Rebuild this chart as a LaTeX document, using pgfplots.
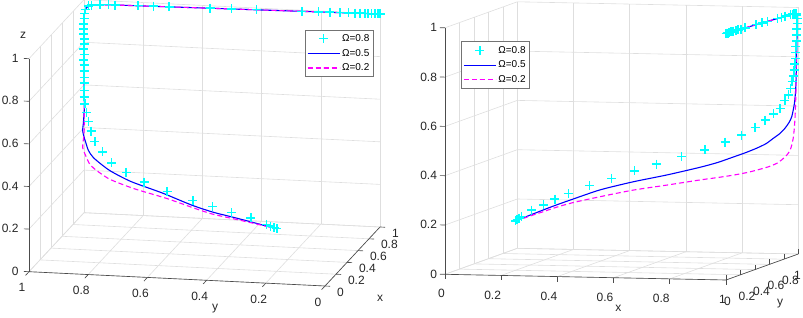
\documentclass[border=0pt]{standalone}
\usepackage{fontspec}
\setmainfont{Liberation Sans}
\usepackage{pgfplots}
\usepackage{pgfplotstable}
\pgfplotsset{compat=1.18}

\pgfplotstableread{
x y z
0.200 0.200 0.200
0.203 0.210 0.204
0.207 0.222 0.209
0.212 0.237 0.215
0.233 0.294 0.235
0.257 0.363 0.249
0.280 0.432 0.266
0.309 0.504 0.281
0.359 0.600 0.305
0.416 0.688 0.326
0.478 0.761 0.350
0.541 0.821 0.373
0.619 0.867 0.400
0.692 0.906 0.425
0.757 0.931 0.455
0.811 0.950 0.483
0.855 0.965 0.514
0.888 0.976 0.543
0.915 0.984 0.568
0.938 0.988 0.591
0.955 0.990 0.622
0.966 0.993 0.645
0.974 0.995 0.672
0.979 0.996 0.699
0.983 0.997 0.722
0.986 0.997 0.746
0.988 0.998 0.771
0.990 0.998 0.794
0.991 0.998 0.817
0.992 0.999 0.841
0.993 0.999 0.865
0.994 0.999 0.888
0.995 0.999 0.912
0.996 0.998 0.936
0.997 0.995 0.956
0.998 0.985 0.972
0.999 0.974 0.977
0.999 0.946 0.980
1.000 0.918 0.982
1.000 0.895 0.982
1.000 0.817 0.984
1.000 0.766 0.985
1.000 0.712 0.986
1.000 0.574 0.989
1.000 0.501 0.990
1.000 0.417 0.992
1.000 0.264 0.995
1.000 0.208 0.996
1.000 0.169 0.997
1.000 0.135 0.997
1.000 0.107 0.998
1.000 0.084 0.998
1.000 0.068 0.999
1.000 0.051 0.999
1.000 0.040 0.999
1.000 0.028 0.999
1.000 0.017 1.000
1.000 0.006 1.000
1.000 0.000 1.000
}\cyantab

\pgfplotstableread{
x y z
0.200 0.200 0.200
0.215 0.245 0.208
0.233 0.294 0.217
0.257 0.363 0.229
0.280 0.430 0.240
0.320 0.510 0.257
0.392 0.622 0.286
0.479 0.745 0.308
0.574 0.835 0.328
0.674 0.907 0.354
0.730 0.935 0.372
0.780 0.953 0.393
0.820 0.967 0.410
0.857 0.978 0.428
0.890 0.982 0.447
0.915 0.985 0.469
0.937 0.988 0.488
0.955 0.990 0.510
0.968 0.993 0.532
0.978 0.995 0.557
0.987 0.997 0.611
0.991 0.998 0.665
0.993 0.999 0.730
0.994 0.999 0.787
0.995 0.999 0.850
0.996 0.999 0.909
0.997 0.996 0.950
0.998 0.985 0.972
0.999 0.960 0.980
1.000 0.900 0.982
1.000 0.800 0.984
1.000 0.700 0.986
1.000 0.600 0.988
1.000 0.500 0.990
1.000 0.400 0.992
1.000 0.300 0.994
1.000 0.200 0.996
1.000 0.100 0.998
1.000 0.000 1.000
}\bluetab

\pgfplotstableread{
x y z
0.200 0.200 0.200
0.233 0.294 0.213
0.257 0.363 0.222
0.280 0.432 0.231
0.322 0.505 0.244
0.396 0.607 0.260
0.480 0.735 0.275
0.574 0.835 0.287
0.675 0.905 0.303
0.730 0.932 0.311
0.781 0.950 0.320
0.830 0.967 0.331
0.869 0.980 0.343
0.900 0.985 0.354
0.926 0.988 0.367
0.945 0.990 0.383
0.961 0.992 0.401
0.972 0.994 0.420
0.978 0.995 0.442
0.983 0.996 0.470
0.986 0.997 0.503
0.989 0.998 0.557
0.992 0.999 0.666
0.993 0.999 0.787
0.995 0.999 0.909
0.997 0.996 0.950
0.998 0.985 0.972
0.999 0.960 0.980
1.000 0.900 0.982
1.000 0.800 0.984
1.000 0.700 0.986
1.000 0.600 0.988
1.000 0.500 0.990
1.000 0.400 0.992
1.000 0.300 0.994
1.000 0.200 0.996
1.000 0.100 0.998
1.000 0.000 1.000
}\magtab

\definecolor{axc}{gray}{0.3}
\definecolor{gridc}{gray}{0.87}
\definecolor{mcyan}{rgb}{0,1,1}
\definecolor{mblue}{rgb}{0,0,1}
\definecolor{mmag}{rgb}{1,0,1}

\pgfplotsset{
  mybox/.style={
    xmin=0,xmax=1,ymin=0,ymax=1,zmin=0,zmax=1,
    xtick={0,0.2,0.4,0.6,0.8,1},
    ytick={0,0.2,0.4,0.6,0.8,1},
    ztick={0,0.2,0.4,0.6,0.8,1},
    xticklabels={}, yticklabels={}, zticklabels={},
    major tick length=0pt,
    grid=major,
    grid style={draw=gridc, line width=0.6pt},
    axis line style={draw=none},
    clip=false,
    anchor=origin,
    legend cell align=left,
    legend style={draw=black!55, fill=white, line width=0.6pt,
      font=\fontsize{10}{11}\selectfont, anchor=north west,
      row sep=2.2pt, inner ysep=2.5pt, inner xsep=2pt},
    legend image code/.code={\draw[mark repeat=2,mark phase=2,##1] plot coordinates {(0pt,0pt) (16pt,0pt) (32pt,0pt)};},
  },
  cyanplot/.style={only marks, mark=+, mark size=4.5pt, draw=mcyan, line width=1.5pt,
    legend image code/.code={\draw[mark repeat=2,mark phase=2,##1] plot coordinates {(0pt,0pt) (16pt,0pt) (32pt,0pt)};}},
  blueplot/.style={draw=mblue, line width=1.1pt, no marks, smooth, tension=0.4},
  magplot/.style={draw=mmag, line width=1.1pt, no marks, smooth, tension=0.4, dash pattern=on 5pt off 3pt},
}

\tikzset{
  axl/.style={draw=axc, line width=0.65pt},
  tl/.style={font=\fontsize{12}{13}\selectfont, text=black!85, inner sep=0pt},
}

\begin{document}
\begin{tikzpicture}
\useasboundingbox (0pt,0pt) rectangle (803pt,318pt);

% ---------------- left plot ----------------
\begin{axis}[mybox,
  at={(325pt,32pt)},
  x={(55pt,59pt)}, y={(-296pt,14.3pt)}, z={(0pt,213pt)},
  legend style={at={(axis cs:0,0.0686,1.199)}},
]
\addplot3[cyanplot] table[x=x,y=y,z=z] {\cyantab};
\addplot3[blueplot] table[x=x,y=y,z=z] {\bluetab};
\addplot3[magplot] table[x=x,y=y,z=z] {\magtab};
\legend{Ω=0.8, Ω=0.5, Ω=0.2}
\draw[axl] (axis cs:0,1,0) -- (axis cs:0,1,1);
\draw[axl] (axis cs:0,0,0) -- (axis cs:0,1,0);
\draw[axl] (axis cs:0,0,0) -- (axis cs:1,0,0);
\pgfplotsinvokeforeach{0,0.2,0.4,0.6,0.8,1}{
  \draw[axl] (axis cs:0,1,#1) -- (axis cs:0,1.017,#1);
  \node[tl, anchor=east] at (axis cs:0,1.035,#1) {#1};
  \draw[axl] (axis cs:0,#1,0) -- (axis cs:-0.062,#1,0);
  \node[tl] at (axis cs:-0.127,#1,-0.04) {#1};
  \draw[axl] (axis cs:#1,0,0) -- (axis cs:#1,-0.017,0);
  \node[tl, anchor=west] at (axis cs:#1,-0.04,-0.025) {#1};
}
\end{axis}

% ---------------- right plot ----------------
\begin{axis}[mybox,
  at={(445pt,43.7pt)},
  x={(281pt,-5.7pt)}, y={(72.3pt,26pt)}, z={(0pt,246.5pt)},
  legend style={at={(axis cs:0.057,0,0.946)}},
]
\addplot3[cyanplot] table[x=x,y=y,z=z] {\cyantab};
\addplot3[blueplot] table[x=x,y=y,z=z] {\bluetab};
\addplot3[magplot] table[x=x,y=y,z=z] {\magtab};
\legend{Ω=0.8, Ω=0.5, Ω=0.2}
\draw[axl] (axis cs:0,0,0) -- (axis cs:0,0,1);
\draw[axl] (axis cs:0,0,0) -- (axis cs:1,0,0);
\draw[axl] (axis cs:1,0,0) -- (axis cs:1,1,0);
\pgfplotsinvokeforeach{0,0.2,0.4,0.6,0.8,1}{
  \draw[axl] (axis cs:0,0,#1) -- (axis cs:-0.018,0,#1);
  \node[tl, anchor=east] at (axis cs:-0.028,0,#1) {#1};
  \draw[axl] (axis cs:#1,0,0) -- (axis cs:#1,0,-0.02);
  \node[tl, anchor=north east] at (axis cs:#1,0,-0.061) {#1};
  \draw[axl] (axis cs:1,#1,0) -- (axis cs:1,#1,0.02);
}
\pgfplotsinvokeforeach{0,0.2,0.4,0.6,0.8}{
  \node[tl, anchor=north west] at (axis cs:0.993,#1,-0.069) {#1};
}
\node[tl, anchor=north west] at (axis cs:0.984,1,-0.069) {1};
\end{axis}

% axis titles
\node[tl] at (215pt,9.7pt) {y};
\node[tl] at (380pt,19.7pt) {x};
\node[tl] at (23pt,283pt) {z};
\node[tl] at (618.3pt,9.7pt) {x};
\node[tl] at (780pt,14.7pt) {y};
\end{tikzpicture}
\end{document}
